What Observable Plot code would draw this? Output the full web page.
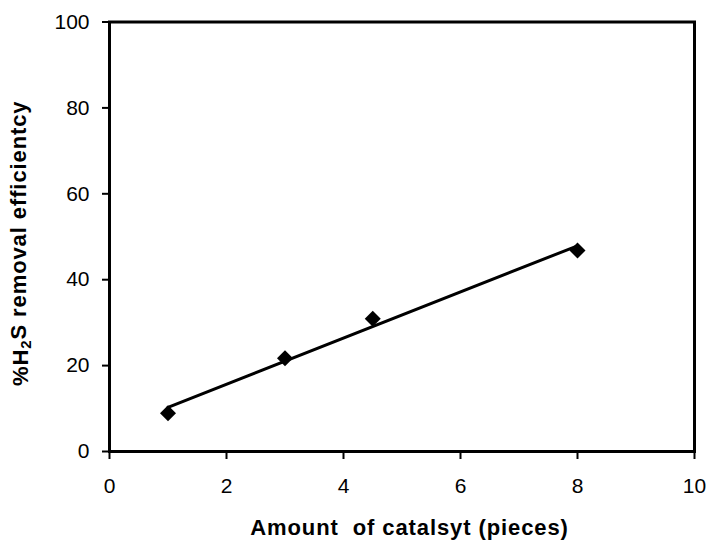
<!DOCTYPE html>
<html><head><meta charset="utf-8">
<script src="https://cdn.jsdelivr.net/npm/d3@7"></script>
<script src="https://cdn.jsdelivr.net/npm/@observablehq/plot@0.6"></script>
<style>body{margin:0;background:#fff}</style>
</head><body><div id="chart"></div>
<script>
const catalyst = [1, 3, 4.5, 8];
const efficiency = [8.9, 21.7, 30.9, 46.8];
const xTicks = [0, 2, 4, 6, 8, 10];
const yTicks = [0, 20, 40, 60, 80, 100];
const xTitle = "Amount  of catalsyt (pieces)";
const yTitleParts = ["%H", "2", "S removal efficientcy"];

const data = catalyst.map((x, i) => ({x, y: efficiency[i]}));

const chart = Plot.plot({
  width: 707, height: 540,
  marginLeft: 109, marginRight: 13, marginTop: 21.5, marginBottom: 89,
  style: {fontFamily: "'Liberation Sans', Arial, sans-serif", fontSize: "21px", background: "#fff", color: "#000", overflow: "visible"},
  x: {domain: [0, 10]},
  y: {domain: [0, 100]},
  marks: [
    Plot.axisX({ticks: xTicks, tickSize: 8, tickPadding: 19, strokeWidth: 2, label: null, fontSize: 21}),
    Plot.axisY({ticks: yTicks, tickSize: 7, tickPadding: 13, strokeWidth: 2, label: null, fontSize: 21}),
    Plot.linearRegressionY(data, {x: "x", y: "y", stroke: "black", strokeWidth: 3, ci: 0}),
    Plot.dot(data, {x: "x", y: "y", symbol: "diamond2", r: 7.2, fill: "black", stroke: "none"}),
    Plot.frame({stroke: "black", strokeWidth: 3})
  ]
});
document.getElementById("chart").append(chart);

const svg = d3.select(chart);
const xr = chart.scale("x").range, yr = chart.scale("y").range;
const cx = (xr[0] + xr[1]) / 2, cy = (yr[0] + yr[1]) / 2;

svg.append("text")
  .attr("x", cx + 8).attr("y", 527)
  .attr("text-anchor", "middle").attr("dominant-baseline", "central")
  .attr("font-weight", "bold").attr("font-size", 22)
  .attr("letter-spacing", "0.9px")
  .attr("fill", "#000")
  .text(xTitle);

const yt = svg.append("text")
  .attr("transform", `translate(20,${cy + 7}) rotate(-90)`)
  .attr("text-anchor", "middle").attr("dominant-baseline", "central")
  .attr("font-weight", "bold").attr("font-size", 22)
  .attr("letter-spacing", "0.9px")
  .attr("fill", "#000");
yt.append("tspan").text(yTitleParts[0]);
yt.append("tspan").attr("font-size", 15).attr("dy", "0.3em").text(yTitleParts[1]);
yt.append("tspan").attr("dy", "-0.3em").text(yTitleParts[2]);
</script>
</body></html>
